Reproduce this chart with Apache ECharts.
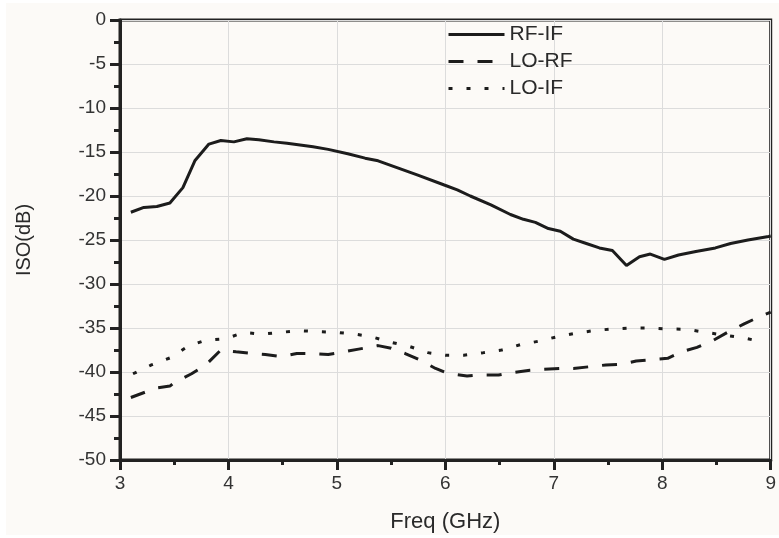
<!DOCTYPE html>
<html>
<head>
<meta charset="utf-8">
<script src="https://cdn.jsdelivr.net/npm/echarts@6/dist/echarts.min.js"></script>
<style>
html,body{margin:0;padding:0;background:#ffffff;}
#bg{position:absolute;left:6px;top:3px;width:773px;height:532px;background:#fcfaf7;}
#chart{position:absolute;left:0;top:0;width:779px;height:538px;}
</style>
</head>
<body>
<div id="bg"></div>
<div id="chart"></div>
<script>
const seriesNames = ['RF-IF', 'LO-RF', 'LO-IF'];
const xTicks = [3, 4, 5, 6, 7, 8, 9];
const yTicks = [0, -5, -10, -15, -20, -25, -30, -35, -40, -45, -50];

const freqRFIF = [3.10,3.22,3.34,3.46,3.58,3.69,3.82,3.93,4.05,4.17,4.28,4.42,4.54,4.66,4.78,4.92,5.10,5.26,5.38,5.56,5.74,5.99,6.11,6.23,6.42,6.60,6.72,6.83,6.95,7.06,7.18,7.30,7.42,7.54,7.67,7.79,7.89,8.02,8.15,8.31,8.49,8.63,8.79,8.98,9.00];
const isoRFIF = [-21.85,-21.3,-21.2,-20.8,-19.05,-16.0,-14.1,-13.7,-13.85,-13.5,-13.6,-13.85,-14.0,-14.2,-14.4,-14.7,-15.2,-15.7,-16.0,-16.8,-17.6,-18.75,-19.3,-20.0,-21.0,-22.1,-22.65,-23.0,-23.7,-24.0,-24.9,-25.4,-25.9,-26.2,-27.9,-26.9,-26.6,-27.2,-26.7,-26.3,-25.9,-25.4,-25.0,-24.6,-24.55];

const freqLORF = [3.10,3.23,3.35,3.46,3.50,3.66,3.79,3.93,4.07,4.22,4.34,4.49,4.63,4.77,4.92,5.07,5.20,5.38,5.50,5.63,5.76,5.91,6.02,6.20,6.29,6.49,6.60,6.78,6.90,7.06,7.18,7.33,7.48,7.64,7.76,7.91,8.05,8.18,8.32,8.47,8.60,8.76,8.90,9.00];
const isoLORF = [-42.9,-42.3,-41.8,-41.6,-41.2,-40.2,-39.2,-37.5,-37.7,-37.9,-38.0,-38.25,-37.9,-37.9,-38.0,-37.7,-37.4,-37.0,-37.3,-37.9,-38.6,-39.6,-40.15,-40.45,-40.35,-40.35,-40.1,-39.8,-39.7,-39.6,-39.6,-39.4,-39.2,-39.1,-38.75,-38.6,-38.45,-37.7,-37.2,-36.4,-35.5,-34.5,-33.7,-33.2];

const freqLOIF = [3.12,3.29,3.46,3.63,3.79,3.98,4.14,4.31,4.48,4.65,4.81,5.00,5.17,5.32,5.49,5.67,5.84,6.00,6.17,6.35,6.52,6.69,6.86,7.03,7.20,7.37,7.54,7.71,7.88,8.05,8.23,8.40,8.57,8.74,8.91];
const isoLOIF = [-40.2,-39.2,-38.4,-37.05,-36.4,-36.2,-35.5,-35.7,-35.5,-35.3,-35.4,-35.5,-35.7,-36.0,-36.6,-37.1,-37.8,-38.1,-38.1,-37.8,-37.5,-36.9,-36.5,-36.0,-35.6,-35.3,-35.1,-35.0,-35.0,-35.1,-35.15,-35.5,-35.8,-36.1,-36.55];

function zip(xs, ys){ return xs.map((x,i)=>[x, ys[i]]); }

const chart = echarts.init(document.getElementById('chart'), null, {renderer:'canvas'});
const lineColor = '#1c1c1c';
const font = 'Liberation Sans, Arial, sans-serif';
const option = {
  backgroundColor: 'transparent',
  animation: false,
  grid: {left:120, right:4, top:20, bottom:78, show:true, borderColor:'#222', borderWidth:3, backgroundColor:'transparent'},
  legend: {
    data: seriesNames,
    orient: 'vertical',
    left: 442, top: 18,
    itemWidth: 56, itemHeight: 12, itemGap: 4,
    itemStyle: {opacity: 0},
    lineStyle: {width: 3},
    textStyle: {fontFamily: font, fontSize: 21, color: '#2a2a2a', lineHeight: 23}
  },
  xAxis: {
    type: 'value', min: xTicks[0], max: xTicks[xTicks.length-1], interval: 1,
    name: 'Freq (GHz)', nameLocation: 'middle', nameGap: 51,
    nameTextStyle: {fontFamily: font, fontSize: 22, color: '#2a2a2a'},
    axisLine: {show:true, onZero:false, lineStyle:{color:'#222', width:3}},
    axisTick: {show:true, inside:false, length:10, lineStyle:{color:'#222', width:3}},
    minorTick: {show:true, splitNumber:2, length:5, lineStyle:{color:'#222', width:3}},
    axisLabel: {fontFamily: font, fontSize: 19, color:'#333', margin: 14},
    splitLine: {show:true, lineStyle:{color:'#dcdcdc', width:1}}
  },
  yAxis: {
    type: 'value', min: yTicks[yTicks.length-1], max: yTicks[0], interval: 5,
    name: 'ISO(dB)', nameLocation: 'middle', nameGap: 86,
    nameTextStyle: {fontFamily: font, fontSize: 20, color: '#2a2a2a'},
    axisLine: {show:true, onZero:false, lineStyle:{color:'#222', width:3}},
    axisTick: {show:true, inside:false, length:10, lineStyle:{color:'#222', width:3}},
    minorTick: {show:true, splitNumber:2, length:6, lineStyle:{color:'#222', width:3}},
    axisLabel: {fontFamily: font, fontSize: 19, color:'#333', margin: 14},
    splitLine: {show:true, lineStyle:{color:'#dcdcdc', width:1}}
  },
  series: [
    {name: seriesNames[0], type:'line', data: zip(freqRFIF, isoRFIF), showSymbol:false, symbol:'none',
     lineStyle:{color:lineColor, width:3, type:'solid'}, itemStyle:{color:lineColor}},
    {name: seriesNames[1], type:'line', data: zip(freqLORF, isoLORF), showSymbol:false, symbol:'none',
     lineStyle:{color:lineColor, width:3, type:[15,14]}, itemStyle:{color:lineColor}},
    {name: seriesNames[2], type:'line', data: zip(freqLOIF, isoLOIF), showSymbol:false, symbol:'none',
     lineStyle:{color:lineColor, width:3, type:[4,14]}, itemStyle:{color:lineColor}}
  ]
};
chart.setOption(option);
</script>
</body>
</html>
